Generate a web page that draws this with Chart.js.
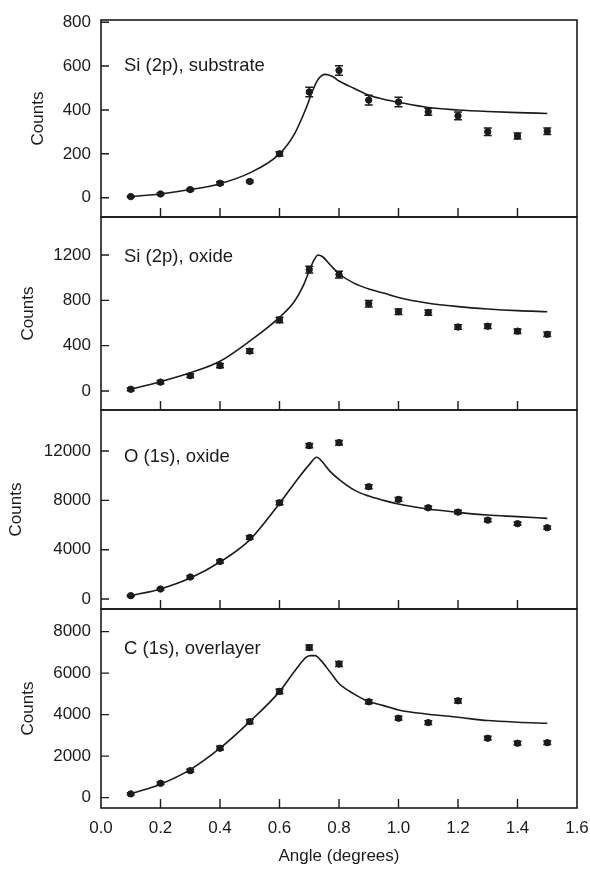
<!DOCTYPE html>
<html><head><meta charset="utf-8">
<script src="https://cdn.jsdelivr.net/npm/chart.js@4.4.1/dist/chart.umd.min.js"></script>
<style>
html,body{margin:0;padding:0;background:#fff;}
#wrap{position:relative;width:590px;height:869px;overflow:hidden;background:#fff;}
.pane{position:absolute;left:0;width:590px;}
canvas{display:block;}
</style></head><body>
<div id="wrap">
  <div class="pane" style="top:0px"><canvas id="c1" width="590" height="232"></canvas></div>
  <div class="pane" style="top:200px"><canvas id="c2" width="590" height="225"></canvas></div>
  <div class="pane" style="top:395px"><canvas id="c3" width="590" height="230"></canvas></div>
  <div class="pane" style="top:594px"><canvas id="c4" width="590" height="275"></canvas></div>
</div>
<script>
// ---- data ----
const angles = [0.1,0.2,0.3,0.4,0.5,0.6,0.7,0.8,0.9,1.0,1.1,1.2,1.3,1.4,1.5];

const siSubCounts = [5,17,37,66,74,200,482,580,445,436,392,373,301,281,303];
const siSubErr    = [3,4,5,7,5,10,22,22,22,22,16,18,17,14,15];
const siSubFitX   = [0.1,0.2,0.3,0.4,0.5,0.6,0.65,0.69,0.71,0.73,0.755,0.78,0.8,0.85,0.9,0.95,1.0,1.1,1.2,1.3,1.4,1.5];
const siSubFitY   = [5,17,37,64,113,200,290,410,483,540,562,551,532,499,467,449,435,411,400,393,388,384];

const siOxCounts  = [15,78,135,224,352,627,1072,1028,770,700,692,565,572,528,500];
const siOxErr     = [12,14,15,18,20,24,30,30,28,24,24,20,20,20,20];
const siOxFitX    = [0.1,0.2,0.3,0.4,0.5,0.6,0.65,0.68,0.7,0.715,0.73,0.745,0.77,0.8,0.85,0.9,0.95,1.0,1.1,1.2,1.3,1.4,1.5];
const siOxFitY    = [15,82,160,262,440,650,790,930,1060,1150,1200,1185,1115,1035,952,900,865,825,775,745,724,709,700];

const oCounts     = [270,811,1784,3050,4990,7810,12440,12680,9110,8080,7400,7050,6400,6110,5780];
const oErr        = [60,80,100,120,140,160,180,180,160,150,140,140,130,130,130];
const oFitX       = [0.1,0.2,0.3,0.4,0.5,0.6,0.66,0.7,0.725,0.745,0.77,0.8,0.85,0.9,0.95,1.0,1.1,1.2,1.3,1.4,1.5];
const oFitY       = [270,820,1700,3000,4800,7750,9700,10900,11500,11100,10350,9700,8850,8350,8000,7700,7300,7030,6810,6680,6540];

const cCounts     = [180,690,1300,2380,3663,5120,7230,6440,4620,3826,3615,4665,2862,2621,2650];
const cErr        = [50,60,70,90,100,110,120,120,100,90,90,100,90,90,90];
const cFitX       = [0.1,0.2,0.3,0.4,0.5,0.6,0.65,0.69,0.705,0.72,0.74,0.77,0.8,0.85,0.9,0.95,1.0,1.1,1.2,1.3,1.4,1.5];
const cFitY       = [180,650,1350,2380,3663,5109,6073,6767,6844,6844,6600,6050,5500,5000,4627,4434,4227,4019,3874,3713,3633,3584];

const xTickValues = [0.0,0.2,0.4,0.6,0.8,1.0,1.2,1.4,1.6];
const yTicks1 = [0,200,400,600,800];
const yTicks2 = [0,400,800,1200];
const yTicks3 = [0,4000,8000,12000];
const yTicks4 = [0,2000,4000,6000,8000];
const panelLabels = ["Si (2p), substrate","Si (2p), oxide","O (1s), oxide","C (1s), overlayer"];
const xTitle = "Angle (degrees)";
const yTitle = "Counts";

// ---- styling ----
const INK = '#1b1b1b';
const FONT = {family:'"Liberation Sans", Arial, Helvetica, sans-serif', size:17};
const PLOT_LEFT = 101;

const deco = {
  id:'deco',
  afterDatasetsDraw(chart, args, opts){
    const ctx = chart.ctx, a = chart.chartArea;
    const xs = chart.scales.x, ys = chart.scales.y;
    ctx.save();
    // error bars
    chart.data.datasets.forEach((ds, di)=>{
      if(!ds.errors) return;
      const meta = chart.getDatasetMeta(di);
      ctx.strokeStyle = INK; ctx.lineWidth = 1.5;
      meta.data.forEach((el, i)=>{
        const v = ds.data[i].y, e = ds.errors[i];
        const y1 = ys.getPixelForValue(v - e), y2 = ys.getPixelForValue(v + e);
        const x = el.x;
        ctx.beginPath();
        ctx.moveTo(x, y1); ctx.lineTo(x, y2);
        ctx.moveTo(x-4, y1); ctx.lineTo(x+4, y1);
        ctx.moveTo(x-4, y2); ctx.lineTo(x+4, y2);
        ctx.stroke();
      });
    });
    // frame
    ctx.strokeStyle = INK; ctx.lineWidth = 1.6;
    ctx.strokeRect(a.left, a.top, a.right - a.left, a.bottom - a.top);
    // inner tick marks
    ctx.lineWidth = 1.4;
    ctx.beginPath();
    ys.ticks.forEach(t=>{
      const y = ys.getPixelForValue(t.value);
      ctx.moveTo(a.left, y); ctx.lineTo(a.left + 8, y);
    });
    xTickValues.forEach(v=>{
      const x = xs.getPixelForValue(v);
      if (x <= a.left + 1 || x >= a.right - 1) return;
      ctx.moveTo(x, a.bottom); ctx.lineTo(x, a.bottom - 9);
    });
    ctx.stroke();
    // panel label
    ctx.fillStyle = INK;
    ctx.font = '18.5px "Liberation Sans", Arial, sans-serif';
    ctx.textBaseline = 'middle';
    ctx.textAlign = 'left';
    ctx.fillText(opts.label, a.left + 23, a.top + opts.labelOffset);
    ctx.restore();
  }
};

function makePanel(id, p){
  const pts = angles.map((a,i)=>({x:a, y:p.values[i]}));
  const fit = p.fitX.map((a,i)=>({x:a, y:p.fitY[i]}));
  return new Chart(document.getElementById(id), {
    type:'scatter',
    data:{datasets:[
      {type:'line', data:fit, borderColor:INK, borderWidth:1.6, pointRadius:0,
       cubicInterpolationMode:'monotone', fill:false, order:2},
      {type:'scatter', data:pts, errors:p.errors, backgroundColor:INK, borderColor:INK,
       pointRadius:3.2, pointStyle:'circle', order:1}
    ]},
    options:{
      responsive:false, animation:false, events:[],
      layout:{autoPadding:false, padding:{left:p.padL, right:13, top:p.padT, bottom:p.padB}},
      plugins:{legend:{display:false}, tooltip:{enabled:false},
               deco:{label:p.label, labelOffset:p.labelOffset}},
      scales:{
        x:{type:'linear', min:0, max:1.6, display:p.showX,
           afterBuildTicks:s=>{s.ticks = xTickValues.map(v=>({value:v}));},
           afterFit:s=>{ if(p.showX) s.height = p.xHeight; s.paddingLeft = 0; s.paddingRight = 0; },
           grid:{display:false, drawTicks:false}, border:{display:false},
           ticks:{padding:10, font:FONT, color:INK, maxRotation:0, autoSkip:false,
                  callback:v=>Number(v).toFixed(1)},
           title:{display:p.showX, text:xTitle, font:FONT, color:INK, padding:{top:0,bottom:2}}},
        y:{type:'linear', min:p.ymin, max:p.ymax,
           afterBuildTicks:s=>{s.ticks = p.yTicks.map(v=>({value:v}));},
           afterFit:s=>{s.width = PLOT_LEFT - p.padL; s.paddingTop = 0; s.paddingBottom = 0;},
           grid:{display:false, drawTicks:false}, border:{display:false},
           ticks:{padding:10, font:FONT, color:INK, callback:v=>String(v)},
           title:{display:true, text:yTitle, font:FONT, color:INK, padding:{top:0,bottom:0}}}
      }
    },
    plugins:[deco]
  });
}

makePanel('c1', {values:siSubCounts, errors:siSubErr, fitX:siSubFitX, fitY:siSubFitY,
  yTicks:yTicks1, ymin:-88, ymax:810, padL:28, padT:20, padB:15, showX:false,
  label:panelLabels[0], labelOffset:46});
makePanel('c2', {values:siOxCounts, errors:siOxErr, fitX:siOxFitX, fitY:siOxFitY,
  yTicks:yTicks2, ymin:-168, ymax:1536, padL:18, padT:17, padB:15, showX:false,
  label:panelLabels[1], labelOffset:40});
makePanel('c3', {values:oCounts, errors:oErr, fitX:oFitX, fitY:oFitY,
  yTicks:yTicks3, ymin:-810, ymax:15330, padL:6, padT:15, padB:16, showX:false,
  label:panelLabels[2], labelOffset:47});
makePanel('c4', {values:cCounts, errors:cErr, fitX:cFitX, fitY:cFitY,
  yTicks:yTicks4, ymin:-500, ymax:9090, padL:18, padT:15, padB:0, showX:true, xHeight:61,
  label:panelLabels[3], labelOffset:40});
</script>
</body></html>
